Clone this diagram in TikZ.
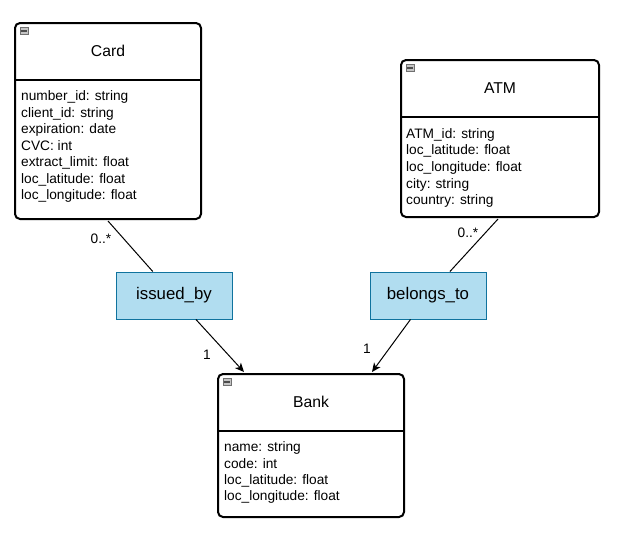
\documentclass[tikz,border=0pt]{standalone}
\usepackage{fontspec}
\setmainfont{Liberation Sans}
\usetikzlibrary{arrows.meta,calc}
\definecolor{assocfill}{HTML}{B1DDF0}
\definecolor{assocdraw}{HTML}{10739E}
\definecolor{iconfill}{HTML}{C4C4C4}
\definecolor{icondraw}{HTML}{707070}
\begin{document}
\begin{tikzpicture}[x=1pt,y=-1pt,
  classbox/.style={draw=black, line width=2pt, rounded corners=5pt, fill=white, inner sep=0pt, anchor=north west},
  divider/.style={draw=black, line width=2pt},
  classtitle/.style={inner sep=0pt, font=\fontsize{15.7}{18}\selectfont},
  attr/.style={inner sep=0pt, anchor=base west, font=\fontsize{13.7}{16}\selectfont},
  assoc/.style={draw=assocdraw, fill=assocfill, line width=1pt, minimum width=116pt, minimum height=47pt, inner sep=0pt, font=\fontsize{16.8}{19}\selectfont},
  conn/.style={draw=black, line width=1pt},
  arr/.style={conn, -{Stealth[length=9pt,width=8pt,inset=2.5pt]}},
  mult/.style={inner sep=0pt, font=\fontsize{13.7}{16}\selectfont},
  icon/.style={draw=icondraw, fill=iconfill, line width=0.8pt, minimum width=7.5pt, minimum height=7pt, inner sep=0pt, anchor=north west}
]
\useasboundingbox (0,0) rectangle (632,547);

% Card
\node[classbox, minimum width=186pt, minimum height=196pt] (card) at (14,22) {};
\draw[divider] ($(card.north west)+(0,58)$) -- ($(card.north east)+(0,58)$);
\node[icon] (cardicon) at ($(card.north west)+(6,5)$) {};
\draw[black!70, line width=1.3pt] ($(cardicon.west)+(1.2,0)$) -- ($(cardicon.east)+(-1.2,0)$);
\node[classtitle] (cardtitle) at ($(card.north)+(0,29)$) {Card};
\foreach \t [count=\i] in {number\_id: string, client\_id: string, expiration: date, CVC: int, extract\_limit: float, loc\_latitude: float, loc\_longitude: float}
  \node[attr] (carda\i) at ($(card.north west)+(7,62.3+16.5*\i)$) {\t};

% ATM
\node[classbox, minimum width=198pt, minimum height=157pt] (atm) at (400,59) {};
\draw[divider] ($(atm.north west)+(0,58)$) -- ($(atm.north east)+(0,58)$);
\node[icon] (atmicon) at ($(atm.north west)+(6,5)$) {};
\draw[black!70, line width=1.3pt] ($(atmicon.west)+(1.2,0)$) -- ($(atmicon.east)+(-1.2,0)$);
\node[classtitle] (atmtitle) at ($(atm.north)+(0,29)$) {ATM};
\foreach \t [count=\i] in {ATM\_id: string, loc\_latitude: float, loc\_longitude: float, city: string, country: string}
  \node[attr] (atma\i) at ($(atm.north west)+(6,62.3+16.7*\i)$) {\t};

% Bank
\node[classbox, minimum width=186pt, minimum height=143pt] (bank) at (217,373) {};
\draw[divider] ($(bank.north west)+(0,58)$) -- ($(bank.north east)+(0,58)$);
\node[icon] (bankicon) at ($(bank.north west)+(6,5)$) {};
\draw[black!70, line width=1.3pt] ($(bankicon.west)+(1.2,0)$) -- ($(bankicon.east)+(-1.2,0)$);
\node[classtitle] (banktitle) at ($(bank.north)+(0,29)$) {Bank};
\foreach \t [count=\i] in {name: string, code: int, loc\_latitude: float, loc\_longitude: float}
  \node[attr] (banka\i) at ($(bank.north west)+(7,62.5+16.3*\i)$) {\t};

% Associations
\node[assoc] (issued) at (174,295.5) {issued\_by};
\node[assoc] (belongs) at (428,295.5) {belongs\_to};

\coordinate (cardout) at ($(card.south)+(0,1)$);
\coordinate (atmout) at ($(atm.south)+(-2,1)$);
\coordinate (bankinL) at ($(bank.north west)+(27,-1)$);
\coordinate (bankinR) at ($(bank.north west)+(155,-1)$);

\draw[conn] (cardout) -- (issued);
\draw[arr] (issued) -- (bankinL);
\draw[conn] (atmout) -- (belongs);
\draw[arr] (belongs) -- (bankinR);

\node[mult] (m1) at (101,239) {0..*};
\node[mult] (m2) at (468,233) {0..*};
\node[mult] (m3) at (207,355) {1};
\node[mult] (m4) at (367,349) {1};
\end{tikzpicture}
\end{document}
